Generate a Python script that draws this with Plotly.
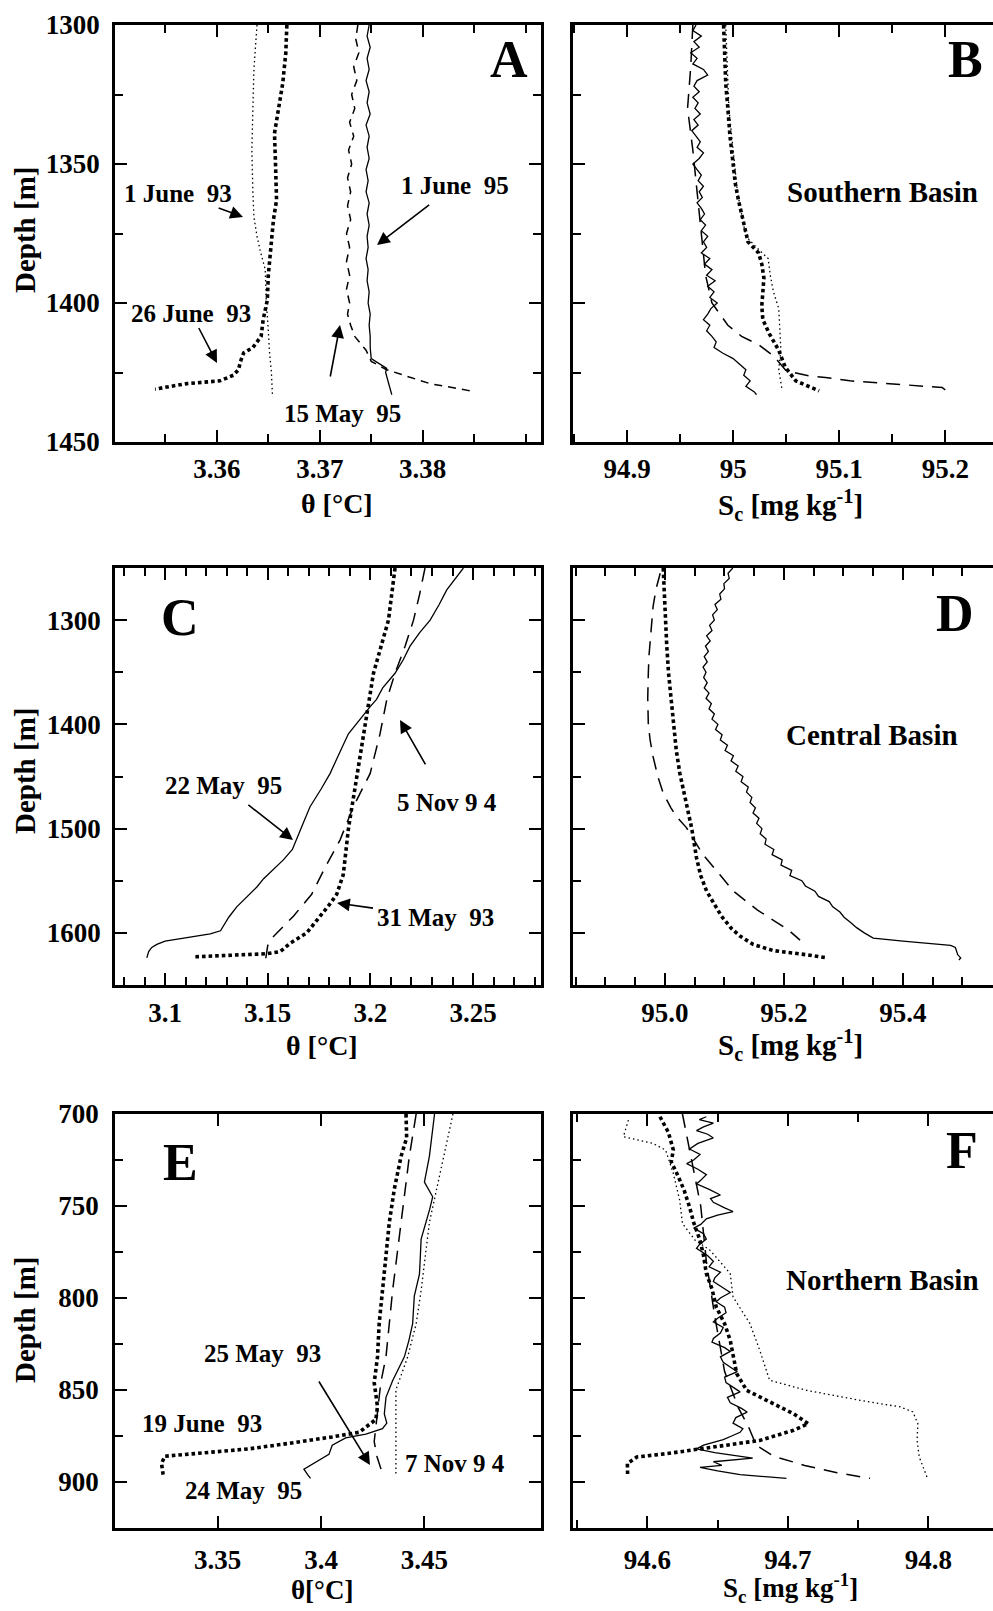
import plotly.graph_objects as go

W, H = 993, 1611
FONT = "Liberation Serif"

# ---------------- Panel A : Southern Basin, theta ----------------
A_jun93_depth = [1300, 1316, 1330, 1345, 1360, 1369, 1376, 1381, 1388, 1399, 1410, 1417, 1425, 1433]
A_jun93_theta = [3.3639, 3.3636, 3.3635, 3.3634, 3.3635, 3.3636, 3.3639, 3.3642, 3.3647, 3.3648, 3.3650, 3.3651, 3.3653, 3.3654]

A_jun26_depth = [1300, 1310, 1321, 1330, 1339, 1350, 1363, 1370, 1381, 1390, 1399, 1406, 1412, 1416, 1418, 1421, 1424, 1426, 1428, 1429, 1430, 1431]
A_jun26_theta = [3.3668, 3.3667, 3.3664, 3.3660, 3.3656, 3.3657, 3.3658, 3.3655, 3.3652, 3.3650, 3.3649, 3.3645, 3.3643, 3.3635, 3.3626, 3.3623, 3.3621, 3.3616, 3.3603, 3.3571, 3.3555, 3.3540]

A_may95_depth = [1300, 1305, 1310, 1315, 1320, 1325, 1330, 1335, 1340, 1345, 1350, 1355, 1360, 1365, 1370, 1375, 1380, 1385, 1390, 1395, 1400, 1404, 1408, 1412, 1417, 1421, 1424, 1426, 1429, 1430.5, 1431.5, 1433]
A_may95_theta = [3.3737, 3.3735, 3.3738, 3.3733, 3.3736, 3.3731, 3.3734, 3.3729, 3.3733, 3.3728, 3.3731, 3.3727, 3.3730, 3.3727, 3.3730, 3.3726, 3.3729, 3.3726, 3.3729, 3.3726, 3.3729, 3.3727, 3.3730, 3.3734, 3.3745, 3.3750, 3.3765, 3.3781, 3.3807, 3.3830, 3.3845, 3.3848]

A_jun95_depth = [1300, 1304, 1308, 1312, 1316, 1320, 1324, 1328, 1332, 1336, 1340, 1344, 1348, 1352, 1356, 1360, 1364, 1368, 1372, 1376, 1380, 1384, 1388, 1392, 1396, 1400, 1404, 1408, 1412, 1416, 1420, 1422, 1423.5, 1425, 1428, 1431, 1433]
A_jun95_theta = [3.3748, 3.3746, 3.3749, 3.3746, 3.3748, 3.3745, 3.3748, 3.3746, 3.3749, 3.3745, 3.3748, 3.3746, 3.3748, 3.3745, 3.3747, 3.3745, 3.3748, 3.3746, 3.3748, 3.3746, 3.3747, 3.3745, 3.3747, 3.3746, 3.3748, 3.3747, 3.3749, 3.3748, 3.3749, 3.3749, 3.3750, 3.3758, 3.3765, 3.3764, 3.3766, 3.3768, 3.3770]

# ---------------- Panel B : Southern Basin, Sc ----------------
B_jun26_depth = [1300, 1310, 1321, 1330, 1340, 1350, 1357, 1363, 1368, 1373, 1378, 1382, 1386, 1391, 1396, 1401, 1406, 1411, 1417, 1423, 1428, 1430, 1431.6]
B_jun26_S = [94.991, 94.992, 94.993, 94.995, 94.997, 95.000, 95.002, 95.005, 95.008, 95.011, 95.014, 95.024, 95.027, 95.029, 95.028, 95.027, 95.028, 95.034, 95.043, 95.049, 95.059, 95.072, 95.081]

B_jun93_depth = [1300, 1330, 1360, 1376, 1380, 1384, 1390, 1396, 1402, 1410, 1417, 1424, 1431]
B_jun93_S = [94.993, 94.996, 95.004, 95.012, 95.022, 95.033, 95.035, 95.038, 95.043, 95.044, 95.045, 95.043, 95.046]

B_may95_depth = [1300, 1315, 1330, 1345, 1360, 1375, 1390, 1400, 1408, 1412, 1415, 1419, 1424.4, 1426.2, 1426.8, 1428.0, 1428.6, 1429.2, 1429.8, 1430.4, 1432.2]
B_may95_S = [94.962, 94.960, 94.957, 94.962, 94.966, 94.970, 94.974, 94.980, 94.995, 95.008, 95.024, 95.038, 95.050, 95.071, 95.087, 95.110, 95.134, 95.150, 95.172, 95.197, 95.2035]

B_jun95_depth = [1300, 1302, 1304, 1306, 1308, 1310, 1312, 1314, 1316, 1318, 1320, 1322, 1324, 1326, 1328, 1330, 1332, 1334, 1336, 1338, 1340, 1342, 1344, 1346, 1348, 1350, 1352, 1354, 1356, 1358, 1360, 1362, 1364, 1366, 1368, 1370, 1372, 1374, 1376, 1378, 1380, 1382, 1384, 1386, 1388, 1390, 1392, 1394, 1396, 1398, 1400, 1402, 1404, 1406, 1408, 1410, 1412, 1414, 1416, 1418, 1420, 1422, 1424, 1426, 1428, 1430, 1432, 1433]
B_jun95_S = [94.965, 94.962, 94.970, 94.963, 94.968, 94.960, 94.966, 94.962, 94.972, 94.976, 94.966, 94.963, 94.968, 94.962, 94.967, 94.964, 94.969, 94.963, 94.967, 94.961, 94.965, 94.969, 94.966, 94.972, 94.968, 94.962, 94.966, 94.970, 94.967, 94.972, 94.968, 94.971, 94.966, 94.970, 94.973, 94.969, 94.974, 94.970, 94.976, 94.972, 94.975, 94.970, 94.978, 94.973, 94.980, 94.975, 94.983, 94.976, 94.982, 94.978, 94.985, 94.979, 94.976, 94.972, 94.978, 94.975, 94.980, 94.984, 94.982, 94.990, 95.000, 95.006, 95.012, 95.010, 95.016, 95.012, 95.020, 95.022]

# ---------------- Panel C : Central Basin, theta ----------------
C_may93_depth = [1250, 1300, 1351, 1400, 1447, 1500, 1544, 1563, 1572, 1584, 1600, 1610, 1618, 1620, 1621, 1623]
C_may93_theta = [3.2120, 3.2088, 3.2015, 3.1974, 3.1934, 3.1893, 3.1868, 3.1836, 3.1804, 3.1755, 3.1690, 3.1609, 3.1560, 3.1495, 3.1333, 3.1138]

C_may95_depth = [1250, 1260, 1271, 1285, 1300, 1312, 1325, 1338, 1351, 1365, 1376, 1383, 1395, 1409, 1425, 1447, 1462, 1479, 1495, 1511, 1520, 1530, 1540, 1548, 1556, 1565, 1575, 1585, 1598, 1601, 1603, 1605, 1608, 1611, 1614, 1618, 1624]
C_may95_theta = [3.2453, 3.2415, 3.2372, 3.2335, 3.2291, 3.2240, 3.2193, 3.2160, 3.2120, 3.2060, 3.2030, 3.1999, 3.1950, 3.1893, 3.1855, 3.1804, 3.1760, 3.1706, 3.1672, 3.1641, 3.1620, 3.1576, 3.1520, 3.1480, 3.1447, 3.1400, 3.1349, 3.1310, 3.1270, 3.1220, 3.1150, 3.1080, 3.1000, 3.0960, 3.0935, 3.0920, 3.0911]

C_nov94_depth = [1250, 1275, 1300, 1325, 1351, 1376, 1409, 1447, 1479, 1511, 1537, 1563, 1584, 1605, 1612, 1625]
C_nov94_theta = [3.2266, 3.2240, 3.2210, 3.2169, 3.2120, 3.2080, 3.2047, 3.1999, 3.1917, 3.1852, 3.1780, 3.1714, 3.1625, 3.1520, 3.1500, 3.1490]

# ---------------- Panel D : Central Basin, Sc ----------------
D_may93_depth = [1250, 1275, 1300, 1325, 1351, 1375, 1400, 1425, 1447, 1475, 1500, 1528, 1545, 1560, 1572, 1584, 1596, 1603, 1611, 1617, 1621, 1624]
D_may93_S = [94.997, 94.999, 95.000, 95.003, 95.006, 95.010, 95.014, 95.019, 95.025, 95.035, 95.045, 95.053, 95.060, 95.070, 95.082, 95.095, 95.112, 95.126, 95.148, 95.182, 95.238, 95.272]

D_nov94_depth = [1255, 1270, 1287, 1300, 1319, 1335, 1351, 1375, 1400, 1415, 1431, 1450, 1466, 1480, 1489, 1499, 1512, 1525, 1544, 1560, 1578, 1588, 1597, 1607]
D_nov94_S = [94.992, 94.985, 94.980, 94.978, 94.975, 94.973, 94.972, 94.971, 94.972, 94.975, 94.980, 94.988, 94.997, 95.010, 95.020, 95.036, 95.050, 95.064, 95.092, 95.115, 95.155, 95.182, 95.207, 95.227]

D_may95_depth = [1250, 1255, 1260, 1265, 1270, 1275, 1280, 1285, 1290, 1295, 1300, 1305, 1310, 1315, 1320, 1325, 1330, 1335, 1340, 1345, 1350, 1355, 1360, 1365, 1370, 1375, 1380, 1385, 1390, 1395, 1400, 1405, 1410, 1415, 1420, 1425, 1430, 1435, 1440, 1445, 1450, 1455, 1460, 1465, 1470, 1475, 1480, 1485, 1490, 1495, 1500, 1505, 1510, 1515, 1520, 1525, 1530, 1535, 1540, 1545, 1550, 1555, 1560, 1565, 1570, 1575, 1580, 1585, 1590, 1595, 1600, 1605, 1608, 1610, 1612, 1614, 1617, 1621, 1624, 1626]
D_may95_S = [95.114, 95.106, 95.108, 95.099, 95.100, 95.092, 95.094, 95.084, 95.088, 95.080, 95.083, 95.075, 95.079, 95.070, 95.076, 95.068, 95.073, 95.066, 95.071, 95.064, 95.069, 95.065, 95.071, 95.066, 95.074, 95.069, 95.078, 95.074, 95.083, 95.079, 95.089, 95.085, 95.096, 95.093, 95.105, 95.101, 95.115, 95.111, 95.123, 95.119, 95.131, 95.128, 95.140, 95.137, 95.146, 95.143, 95.152, 95.148, 95.158, 95.154, 95.163, 95.160, 95.170, 95.168, 95.183, 95.180, 95.197, 95.195, 95.213, 95.210, 95.230, 95.236, 95.252, 95.258, 95.276, 95.282, 95.294, 95.301, 95.312, 95.322, 95.335, 95.350, 95.400, 95.440, 95.480, 95.488, 95.490, 95.492, 95.497, 95.494]

# ---------------- Panel E : Northern Basin, theta ----------------
E_jun93_depth = [700, 713, 723, 741, 759, 778, 796, 814, 832, 846, 859, 866, 873, 875.5, 879, 882, 886, 890, 896]
E_jun93_theta = [3.4411, 3.4414, 3.4387, 3.4354, 3.4330, 3.4314, 3.4297, 3.4281, 3.4273, 3.4257, 3.4273, 3.4265, 3.4184, 3.4054, 3.3844, 3.3650, 3.3244, 3.3228, 3.3236]

E_may95_depth = [700, 712, 723, 737, 745, 752, 759, 768, 778, 787, 799, 807, 814, 823, 832, 845, 854, 863, 868, 871, 874, 876, 880, 885, 888, 893, 896, 898]
E_may95_theta = [3.4549, 3.4537, 3.4524, 3.4500, 3.4540, 3.4525, 3.4508, 3.4484, 3.4480, 3.4476, 3.4451, 3.4448, 3.4443, 3.4425, 3.4403, 3.4346, 3.4314, 3.4306, 3.4318, 3.4297, 3.4217, 3.4119, 3.4054, 3.4038, 3.3990, 3.3917, 3.3935, 3.3949]

E_may93_depth = [700, 723, 759, 796, 832, 846, 862, 878, 886, 893]
E_may93_theta = [3.4460, 3.4427, 3.4387, 3.4346, 3.4314, 3.4289, 3.4273, 3.4257, 3.4270, 3.4290]

E_nov94_depth = [700, 741, 759, 796, 814, 832, 845, 850, 896]
E_nov94_theta = [3.4638, 3.4557, 3.4524, 3.4484, 3.4460, 3.4419, 3.4378, 3.4362, 3.4362]

# ---------------- Panel F : Northern Basin, Sc ----------------
F_jun93_depth = [701.5, 710, 719.6, 726, 732.3, 741, 750.4, 759, 768.6, 777, 786.7, 795, 804.8, 814, 823, 832, 841.1, 850.2, 855.6, 862.9, 868.3, 871.9, 877.4, 881, 884.6, 886.4, 890, 897.3]
F_jun93_S = [94.609, 94.615, 94.6185, 94.617, 94.621, 94.626, 94.630, 94.633, 94.6375, 94.640, 94.642, 94.646, 94.649, 94.655, 94.659, 94.661, 94.6636, 94.6707, 94.685, 94.704, 94.7146, 94.704, 94.680, 94.647, 94.6138, 94.5925, 94.5858, 94.586]

F_nov94_depth = [703.3, 712.3, 716, 719.6, 732.3, 746.8, 759.5, 768.6, 774, 786.7, 799.4, 813.9, 828.4, 844.7, 850.2, 855.6, 859.2, 861.9, 868.3, 877.4, 886.4, 897.3]
F_nov94_S = [94.5865, 94.583, 94.604, 94.613, 94.6185, 94.623, 94.625, 94.634, 94.6446, 94.659, 94.661, 94.673, 94.680, 94.687, 94.7134, 94.7514, 94.780, 94.789, 94.7925, 94.792, 94.7935, 94.799]

F_may95_depth = [701.5, 703, 705, 707, 709, 711, 713, 716, 719, 722, 725, 727, 730, 733, 736, 738, 741, 744, 746, 748, 751, 753, 755, 757, 760, 762, 765, 768, 771, 773, 777, 780, 783, 786, 789, 791, 794, 797, 800, 802, 805, 808, 811, 813, 816, 819, 822, 824, 827, 829, 832, 835, 838, 840, 843, 846, 849, 851, 854, 857, 860, 862, 865, 868, 871, 873, 875, 877, 880, 882, 884, 885, 887, 889, 891, 892, 894, 896, 898]
F_may95_S = [94.642, 94.637, 94.647, 94.640, 94.635, 94.643, 94.647, 94.636, 94.630, 94.6375, 94.633, 94.628, 94.636, 94.642, 94.638, 94.635, 94.644, 94.652, 94.645, 94.647, 94.655, 94.661, 94.650, 94.642, 94.638, 94.633, 94.640, 94.642, 94.637, 94.635, 94.643, 94.647, 94.644, 94.652, 94.648, 94.647, 94.653, 94.659, 94.652, 94.649, 94.655, 94.656, 94.650, 94.647, 94.654, 94.652, 94.647, 94.646, 94.655, 94.659, 94.652, 94.654, 94.660, 94.664, 94.655, 94.656, 94.662, 94.666, 94.657, 94.659, 94.667, 94.671, 94.663, 94.661, 94.668, 94.666, 94.660, 94.654, 94.640, 94.635, 94.648, 94.656, 94.675, 94.647, 94.653, 94.6375, 94.650, 94.666, 94.699]

F_may93_depth = [700, 720, 750, 780, 810, 840, 860, 870, 880, 886, 891, 895, 898]
F_may93_S = [94.625, 94.630, 94.638, 94.642, 94.648, 94.655, 94.665, 94.672, 94.6775, 94.690, 94.712, 94.735, 94.7585]

# ---------------- axis ticks / labels ----------------
A_xticks = [3.36, 3.37, 3.38]
A_xlabels = ["3.36", "3.37", "3.38"]
B_xticks = [94.9, 95.0, 95.1, 95.2]
B_xlabels = ["94.9", "95", "95.1", "95.2"]
AB_yticks = [1300, 1350, 1400, 1450]
C_xticks = [3.10, 3.15, 3.20, 3.25]
C_xlabels = ["3.1", "3.15", "3.2", "3.25"]
D_xticks = [95.0, 95.2, 95.4]
D_xlabels = ["95.0", "95.2", "95.4"]
CD_yticks = [1300, 1400, 1500, 1600]
E_xticks = [3.35, 3.40, 3.45]
E_xlabels = ["3.35", "3.4", "3.45"]
F_xticks = [94.6, 94.7, 94.8]
F_xlabels = ["94.6", "94.7", "94.8"]
EF_yticks = [700, 750, 800, 850, 900]

THIN_DOT = dict(color="black", width=1.3, dash="1.5px,3px")
THICK_DOT = dict(color="black", width=3.6, dash="3.6px,3px")
DASH = dict(color="black", width=1.5, dash="14px,9px")
SHORT_DASH = dict(color="black", width=1.5, dash="8px,6px")
SOLID = dict(color="black", width=1.3)

fig = go.Figure()

def add(x, y, line, xa, ya):
    fig.add_trace(go.Scatter(x=x, y=y, mode="lines", line=line, xaxis=xa, yaxis=ya,
                             showlegend=False, hoverinfo="skip"))

add(A_jun93_theta, A_jun93_depth, THIN_DOT, "x", "y")
add(A_jun26_theta, A_jun26_depth, THICK_DOT, "x", "y")
add(A_may95_theta, A_may95_depth, SHORT_DASH, "x", "y")
add(A_jun95_theta, A_jun95_depth, SOLID, "x", "y")

add(B_jun93_S, B_jun93_depth, THIN_DOT, "x2", "y2")
add(B_jun26_S, B_jun26_depth, THICK_DOT, "x2", "y2")
add(B_may95_S, B_may95_depth, DASH, "x2", "y2")
add(B_jun95_S, B_jun95_depth, SOLID, "x2", "y2")

add(C_may93_theta, C_may93_depth, THICK_DOT, "x3", "y3")
add(C_may95_theta, C_may95_depth, SOLID, "x3", "y3")
add(C_nov94_theta, C_nov94_depth, DASH, "x3", "y3")

add(D_may93_S, D_may93_depth, THICK_DOT, "x4", "y4")
add(D_nov94_S, D_nov94_depth, DASH, "x4", "y4")
add(D_may95_S, D_may95_depth, SOLID, "x4", "y4")

add(E_jun93_theta, E_jun93_depth, THICK_DOT, "x5", "y5")
add(E_may95_theta, E_may95_depth, SOLID, "x5", "y5")
add(E_may93_theta, E_may93_depth, DASH, "x5", "y5")
add(E_nov94_theta, E_nov94_depth, THIN_DOT, "x5", "y5")

add(F_nov94_S, F_nov94_depth, THIN_DOT, "x6", "y6")
add(F_may95_S, F_may95_depth, SOLID, "x6", "y6")
add(F_may93_S, F_may93_depth, DASH, "x6", "y6")
add(F_jun93_S, F_jun93_depth, THICK_DOT, "x6", "y6")

TICKFONT = dict(family=FONT, size=27, color="black", weight="bold")


def px_x(p):
    return p / W


def px_y(p):
    return 1 - p / H


def axis(domain, rng, anchor, tickvals, ticktext, minor_tick0, minor_dtick,
         labels=True, standoff=8, mirror="allticks"):
    d = dict(domain=domain, range=rng, anchor=anchor, tickmode="array",
             tickvals=tickvals, ticktext=ticktext, ticks="inside", ticklen=12,
             tickwidth=2, tickcolor="black", showline=True, linewidth=2.5,
             linecolor="black", mirror=mirror, showgrid=False, zeroline=False,
             automargin=False, showticklabels=labels, tickfont=TICKFONT,
             ticklabelstandoff=standoff)
    if minor_dtick:
        d["minor"] = dict(tickmode="linear", tick0=minor_tick0, dtick=minor_dtick,
                          ticks="inside", ticklen=8, tickwidth=2, tickcolor="black",
                          showgrid=False)
    return d

LX = [px_x(115), px_x(541)]
RX = [px_x(573), 1.0]
R1 = [px_y(442), px_y(25)]
R2 = [px_y(985), px_y(568)]
R3 = [px_y(1528), px_y(1114)]

lay = dict(
    xaxis=axis(LX, [3.3501, 3.3915], "y", A_xticks, A_xlabels, 3.355, 0.005, standoff=1),
    yaxis=axis(R1, [1450, 1300], "x", AB_yticks, [str(v) for v in AB_yticks], 1300, 25, standoff=7),
    xaxis2=axis(RX, [94.849, 95.245], "y2", B_xticks, B_xlabels, 94.85, 0.05, standoff=1),
    yaxis2=axis(R1, [1450, 1300], "x2", AB_yticks, AB_yticks, 1300, 25, labels=False, mirror=False),
    xaxis3=axis(LX, [3.0756, 3.2831], "y3", C_xticks, C_xlabels, 3.08, 0.01, standoff=2),
    yaxis3=axis(R2, [1650, 1250], "x3", CD_yticks, [str(v) for v in CD_yticks], 1250, 50, standoff=6),
    xaxis4=axis(RX, [94.8454, 95.5513], "y4", D_xticks, D_xlabels, 94.85, 0.05, standoff=2),
    yaxis4=axis(R2, [1650, 1250], "x4", CD_yticks, CD_yticks, 1250, 50, labels=False, mirror=False),
    xaxis5=axis(LX, [3.3003, 3.5064], "y5", E_xticks, E_xlabels, None, None, standoff=6),
    yaxis5=axis(R3, [925, 700], "x5", EF_yticks, [str(v) for v in EF_yticks], 700, 25, standoff=8),
    xaxis6=axis(RX, [94.5471, 94.846], "y6", F_xticks, F_xlabels, 94.55, 0.05, standoff=6),
    yaxis6=axis(R3, [925, 700], "x6", EF_yticks, EF_yticks, 700, 25, labels=False, mirror=False),
)
# right-hand tick rows of the salinity panels (frame edge lies beyond the page)
for i, (rng, tv, t0, dt, base) in enumerate([
        ([1450, 1300], AB_yticks, 1300, 25, 2),
        ([1650, 1250], CD_yticks, 1250, 50, 4),
        ([925, 700], EF_yticks, 700, 25, 6)]):
    d = axis(lay["yaxis%d" % base]["domain"], rng, "x%d" % base, tv, tv, t0, dt,
             labels=False, mirror=False)
    d.update(overlaying="y%d" % base, side="right", showline=False)
    lay["yaxis%d" % (7 + i)] = d

fig.update_layout(**lay)

ann = []
LABEL_FONT = dict(family=FONT, size=25, color="black", weight="bold")


def text(x, y, s, size=25, angle=0):
    ann.append(dict(x=px_x(x), y=px_y(y), xref="paper", yref="paper", text=s,
                    showarrow=False, xanchor="center", yanchor="middle", textangle=angle,
                    font=dict(family=FONT, size=size, color="black", weight="bold")))


def labelled_arrow(s, cx, cy, hx, hy, start=0):
    # label centred at (cx, cy), arrow from its box edge to head (hx, hy)
    ann.append(dict(x=px_x(hx), y=px_y(hy), xref="paper", yref="paper", text=s,
                    font=LABEL_FONT, showarrow=True, ax=cx - hx, ay=cy - hy,
                    arrowhead=2, arrowsize=1.6, arrowwidth=1.6, arrowcolor="black",
                    standoff=0, startstandoff=start))


def arrow(tx, ty, hx, hy):
    ann.append(dict(x=px_x(hx), y=px_y(hy), xref="paper", yref="paper", text="",
                    showarrow=True, ax=tx - hx, ay=ty - hy,
                    arrowhead=2, arrowsize=1.6, arrowwidth=1.6, arrowcolor="black",
                    standoff=0))

NB = "\u00a0"
# panel letters
for lx, ly, s in [(509, 60, "A"), (965, 60, "B"), (180, 617, "C"), (955, 613, "D"),
                  (180, 1162, "E"), (962, 1150, "F")]:
    text(lx, ly, s, size=52)
# basin labels
text(882, 192, "Southern Basin", size=29)
text(872, 735, "Central Basin", size=29)
text(882, 1280, "Northern Basin", size=29)
# axis titles
for yy in (230, 771, 1320):
    text(25, yy, "Depth [m]", size=29, angle=-90)
text(337, 503, "θ [°C]", size=28)
text(322, 1045, "θ [°C]", size=28)
text(322, 1590, "θ[°C]", size=27)
for yy in (505, 1045):
    text(790, yy, "S<sub>c</sub> [mg kg<sup>-1</sup>]", size=29)
text(790, 1588, "S<sub>c</sub> [mg kg<sup>-1</sup>]", size=27)
# date labels with their arrows
labelled_arrow("1 June" + NB + " 93", 178, 193, 243, 217, start=0)
labelled_arrow("1 June" + NB + " 95", 455, 185, 377, 245, start=8)
labelled_arrow("26 June" + NB + " 93", 191, 313, 217, 363, start=0)
labelled_arrow("22 May" + NB + " 95", 223, 785, 293, 840, start=8)
labelled_arrow("5 Nov 9" + NB + "4", 447, 802, 400, 720, start=26)
labelled_arrow("31 May" + NB + " 93", 435, 917, 337, 903, start=2)
# labels whose arrows start elsewhere
text(342, 413, "15 May" + NB + " 95")
text(262, 1353, "25 May" + NB + " 93")
arrow(330, 378, 340, 325)
arrow(318, 1380, 370, 1465)
# labels without arrows
text(202, 1423, "19 June" + NB + " 93")
text(455, 1463, "7 Nov 9" + NB + "4")
text(243, 1490, "24 May" + NB + " 95")

fig.update_layout(annotations=ann, width=W, height=H,
                  margin=dict(l=0, r=0, t=0, b=0),
                  paper_bgcolor="white", plot_bgcolor="white",
                  font=dict(family=FONT, color="black"))

fig.write_html("out.html")
